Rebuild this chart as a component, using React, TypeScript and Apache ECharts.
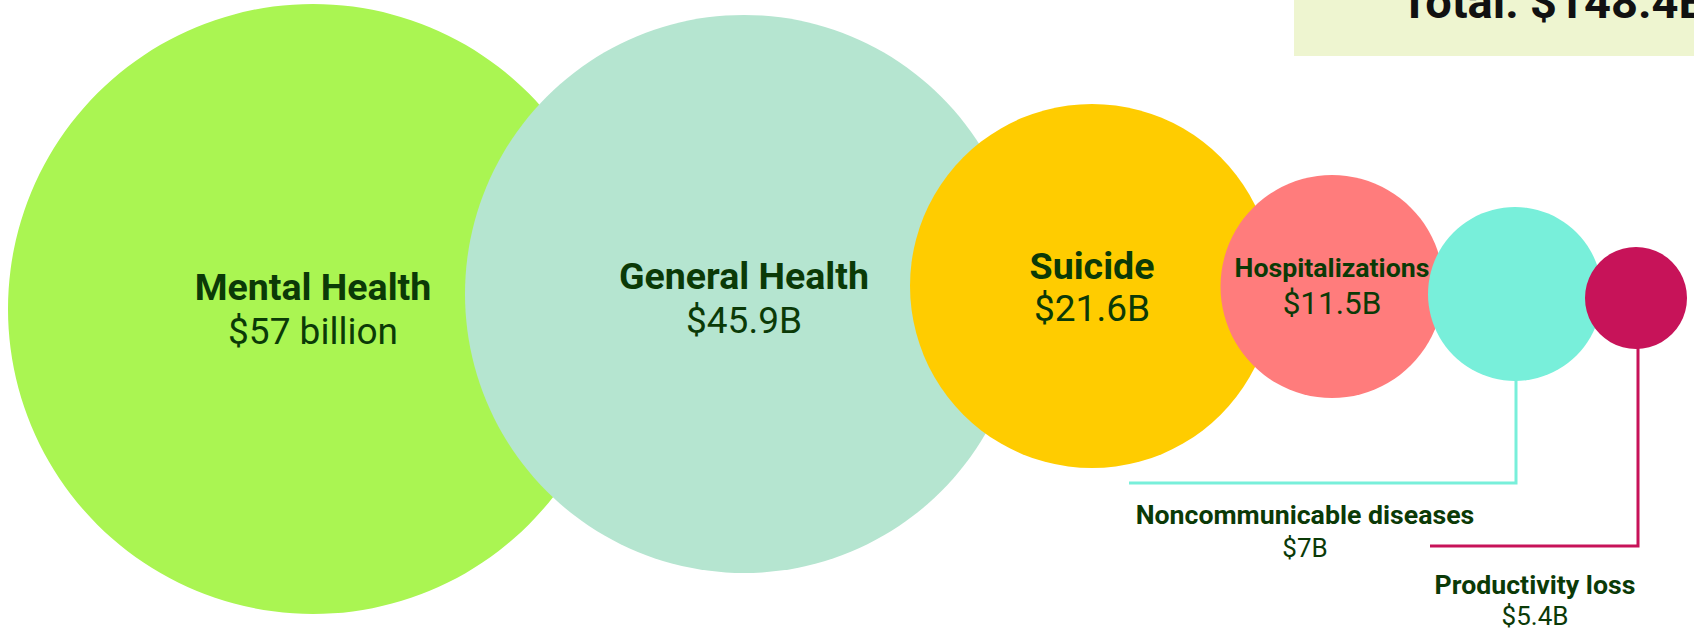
import React, { useEffect, useRef } from "react";
import * as echarts from "echarts";

const W = 1694;
const H = 631;

// ---- data ----
const categories = [
  "Mental Health",
  "General Health",
  "Suicide",
  "Hospitalizations",
  "Noncommunicable diseases",
  "Productivity loss",
];
const costBillions = [57, 45.9, 21.6, 11.5, 7, 5.4];
const valueLabels = ["$57 billion", "$45.9B", "$21.6B", "$11.5B", "$7B", "$5.4B"];
const totalLabel = "Total: $148.4B";

// ---- layout (hand-placed bubbles, axis units = px) ----
const layoutX = [313, 744, 1092, 1332, 1515, 1636];
const layoutY = [309, 294, 286, 286.5, 294, 298];
const diameters = [610, 558, 364, 223, 174, 102];
const colors = ["#aaf552", "#b5e5d0", "#ffcc00", "#ff7c7c", "#78efda", "#c71359"];

export default function App() {
  const ref = useRef<HTMLDivElement>(null);
  useEffect(() => {
    const chart = echarts.init(ref.current!, null, { renderer: "svg" });
    const font = "Roboto";
    const textColor = "#0b3a07";
    const labelStyle = [
      { t: 37.5, v: 37, lh: 45, off: [0, 0] },
      { t: 37.5, v: 37, lh: 44, off: [0, 4] },
      { t: 37.5, v: 37, lh: 42, off: [0, 1] },
      { t: 26.7, v: 31.5, lh: 35, off: [0, -1] },
      { t: 26.7, v: 26, lh: 33, off: [-210, 237] },
      { t: 26.7, v: 26, lh: 31, off: [-101, 302] },
    ];
    const data = categories.map((name, i) => ({
      name,
      value: [layoutX[i], layoutY[i], costBillions[i]],
      symbolSize: diameters[i],
      itemStyle: { color: colors[i], opacity: 1 },
      label: {
        show: true,
        position: "inside",
        offset: labelStyle[i].off,
        formatter: () => `{t|${name}}\n{v|${valueLabels[i]}}`,
        rich: {
          t: {
            fontFamily: font,
            fontWeight: "bold",
            fontSize: labelStyle[i].t,
            color: textColor,
            lineHeight: labelStyle[i].lh,
            align: "center",
          },
          v: {
            fontFamily: font,
            fontWeight: "normal",
            fontSize: labelStyle[i].v,
            color: textColor,
            lineHeight: labelStyle[i].lh,
            align: "center",
          },
        },
      },
    }));
    chart.setOption({
      animation: false,
      grid: { left: 0, right: 0, top: 0, bottom: 0 },
      xAxis: { type: "value", min: 0, max: W, show: false },
      yAxis: { type: "value", min: 0, max: H, inverse: true, show: false },
      series: [
        {
          type: "scatter",
          symbol: "circle",
          silent: true,
          data,
          emphasis: { disabled: true },
        },
      ],
    });

    const p4 = chart.convertToPixel({ gridIndex: 0 }, [layoutX[4], layoutY[4]]) as number[];
    const p5 = chart.convertToPixel({ gridIndex: 0 }, [layoutX[5], layoutY[5]]) as number[];
    chart.setOption({
      graphic: [
        {
          type: "polyline",
          silent: true,
          shape: {
            points: [
              [p4[0] + 1, p4[1] + diameters[4] / 2 - 2],
              [p4[0] + 1, p4[1] + 189],
              [p4[0] - 386, p4[1] + 189],
            ],
          },
          style: { stroke: colors[4], lineWidth: 3, fill: null },
        },
        {
          type: "polyline",
          silent: true,
          shape: {
            points: [
              [p5[0] + 2, p5[1] + diameters[5] / 2 - 2],
              [p5[0] + 2, p5[1] + 248],
              [p5[0] - 206, p5[1] + 248],
            ],
          },
          style: { stroke: colors[5], lineWidth: 3, fill: null },
        },
        {
          type: "rect",
          silent: true,
          shape: { x: 1294, y: -20, width: 420, height: 76 },
          style: { fill: "#eef5d0" },
        },
        {
          type: "text",
          silent: true,
          x: 1400,
          y: 1,
          style: {
            text: totalLabel,
            fontFamily: font,
            fontWeight: "bold",
            fontSize: 47,
            fill: "#111111",
            align: "left",
            verticalAlign: "middle",
          },
        },
      ],
    });
    return () => chart.dispose();
  }, []);
  return (
    <div
      ref={ref}
      style={{ position: "fixed", left: 0, top: 0, width: W, height: H, background: "#ffffff" }}
    />
  );
}
